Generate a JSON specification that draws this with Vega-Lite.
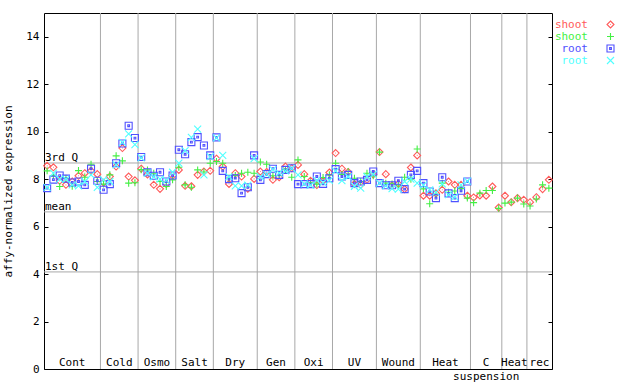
{
  "$schema": "https://vega.github.io/schema/vega-lite/v6.json",
  "width": 508,
  "height": 356,
  "autosize": {"type": "none"},
  "padding": {"left": 44, "top": 13, "right": 88, "bottom": 15},
  "background": "white",
  "config": {
    "view": {"stroke": "black", "strokeWidth": 1},
    "font": "DejaVu Sans Mono"
  },
  "datasets": {
    "groups": [
      {"name": "Cont", "a": 0, "b": 8},
      {"name": "Cold", "a": 9, "b": 14},
      {"name": "Osmo", "a": 15, "b": 20},
      {"name": "Salt", "a": 21, "b": 26},
      {"name": "Dry", "a": 27, "b": 33},
      {"name": "Gen", "a": 34, "b": 39},
      {"name": "Oxi", "a": 40, "b": 45},
      {"name": "UV", "a": 46, "b": 52},
      {"name": "Wound", "a": 53, "b": 59},
      {"name": "Heat", "a": 60, "b": 67},
      {"name": "C\nsuspension", "a": 68, "b": 72},
      {"name": "Heat", "a": 73, "b": 76},
      {"name": "rec", "a": 77, "b": 80}
    ],
    "refs": [
      {"name": "3rd Q", "v": 8.68},
      {"name": "mean", "v": 6.62},
      {"name": "1st Q", "v": 4.09}
    ],
    "pts": [
      {"i":0,"s":"shoot1","v":8.56},{"i":1,"s":"shoot1","v":8.5},{"i":2,"s":"shoot1","v":7.93},{"i":3,"s":"shoot1","v":7.76},{"i":4,"s":"shoot1","v":7.9},{"i":5,"s":"shoot1","v":8.14},{"i":6,"s":"shoot1","v":8.25},{"i":7,"s":"shoot1","v":8.35},{"i":8,"s":"shoot1","v":8.21},
      {"i":9,"s":"shoot1","v":7.85},{"i":10,"s":"shoot1","v":8.11},{"i":11,"s":"shoot1","v":8.53},{"i":12,"s":"shoot1","v":9.31},{"i":13,"s":"shoot1","v":8.11},{"i":14,"s":"shoot1","v":7.95},
      {"i":15,"s":"shoot1","v":8.44},{"i":16,"s":"shoot1","v":8.2},{"i":17,"s":"shoot1","v":7.76},{"i":18,"s":"shoot1","v":7.59},{"i":19,"s":"shoot1","v":7.8},{"i":20,"s":"shoot1","v":8.15},
      {"i":21,"s":"shoot1","v":8.39},{"i":22,"s":"shoot1","v":7.72},{"i":23,"s":"shoot1","v":7.7},{"i":24,"s":"shoot1","v":8.18},{"i":25,"s":"shoot1","v":8.32},{"i":26,"s":"shoot1","v":8.35},
      {"i":27,"s":"shoot1","v":8.86},{"i":28,"s":"shoot1","v":8.53},{"i":29,"s":"shoot1","v":7.8},{"i":30,"s":"shoot1","v":8.25},{"i":31,"s":"shoot1","v":8.11},{"i":32,"s":"shoot1","v":7.6},{"i":33,"s":"shoot1","v":8.01},
      {"i":34,"s":"shoot1","v":8.32},{"i":35,"s":"shoot1","v":8.3},{"i":36,"s":"shoot1","v":7.97},{"i":37,"s":"shoot1","v":8.08},{"i":38,"s":"shoot1","v":8.53},{"i":39,"s":"shoot1","v":8.46},
      {"i":40,"s":"shoot1","v":8.6},{"i":41,"s":"shoot1","v":8.21},{"i":42,"s":"shoot1","v":7.93},{"i":43,"s":"shoot1","v":7.75},{"i":44,"s":"shoot1","v":7.93},{"i":45,"s":"shoot1","v":8.28},
      {"i":46,"s":"shoot1","v":9.1},{"i":47,"s":"shoot1","v":8.44},{"i":48,"s":"shoot1","v":8.3},{"i":49,"s":"shoot1","v":7.8},{"i":50,"s":"shoot1","v":7.76},{"i":51,"s":"shoot1","v":7.97},{"i":52,"s":"shoot1","v":8.2},
      {"i":53,"s":"shoot1","v":9.14},{"i":54,"s":"shoot1","v":8.21},{"i":55,"s":"shoot1","v":7.74},{"i":56,"s":"shoot1","v":7.8},{"i":57,"s":"shoot1","v":7.58},{"i":58,"s":"shoot1","v":8.49},{"i":59,"s":"shoot1","v":9.0},
      {"i":60,"s":"shoot1","v":7.3},{"i":61,"s":"shoot1","v":7.3},{"i":62,"s":"shoot1","v":7.4},{"i":63,"s":"shoot1","v":7.55},{"i":64,"s":"shoot1","v":7.9},{"i":65,"s":"shoot1","v":7.76},{"i":66,"s":"shoot1","v":7.76},{"i":67,"s":"shoot1","v":7.3},
      {"i":68,"s":"shoot1","v":7.23},{"i":69,"s":"shoot1","v":7.31},{"i":70,"s":"shoot1","v":7.3},{"i":71,"s":"shoot1","v":7.69},{"i":72,"s":"shoot1","v":6.8},
      {"i":73,"s":"shoot1","v":7.3},{"i":74,"s":"shoot1","v":7.03},{"i":75,"s":"shoot1","v":7.2},{"i":76,"s":"shoot1","v":7.13},
      {"i":77,"s":"shoot1","v":7.03},{"i":78,"s":"shoot1","v":7.24},{"i":79,"s":"shoot1","v":7.58},{"i":80,"s":"shoot1","v":7.97},

      {"i":0,"s":"shoot2","v":8.35},{"i":1,"s":"shoot2","v":8.14},{"i":2,"s":"shoot2","v":7.69},{"i":3,"s":"shoot2","v":8.04},{"i":4,"s":"shoot2","v":7.7},{"i":5,"s":"shoot2","v":8.36},{"i":6,"s":"shoot2","v":8.08},{"i":7,"s":"shoot2","v":8.63},{"i":8,"s":"shoot2","v":7.9},
      {"i":9,"s":"shoot2","v":7.79},{"i":10,"s":"shoot2","v":8.18},{"i":11,"s":"shoot2","v":8.98},{"i":12,"s":"shoot2","v":8.77},{"i":13,"s":"shoot2","v":7.83},{"i":14,"s":"shoot2","v":7.85},
      {"i":15,"s":"shoot2","v":8.4},{"i":16,"s":"shoot2","v":8.39},{"i":17,"s":"shoot2","v":8.25},{"i":18,"s":"shoot2","v":7.9},{"i":19,"s":"shoot2","v":7.69},{"i":20,"s":"shoot2","v":7.97},
      {"i":21,"s":"shoot2","v":8.5},{"i":22,"s":"shoot2","v":7.76},{"i":23,"s":"shoot2","v":7.66},{"i":24,"s":"shoot2","v":8.39},{"i":25,"s":"shoot2","v":8.3},{"i":26,"s":"shoot2","v":8.67},
      {"i":27,"s":"shoot2","v":8.74},{"i":28,"s":"shoot2","v":8.67},{"i":29,"s":"shoot2","v":8.05},{"i":30,"s":"shoot2","v":8.15},{"i":31,"s":"shoot2","v":8.25},{"i":32,"s":"shoot2","v":8.29},{"i":33,"s":"shoot2","v":8.25},
      {"i":34,"s":"shoot2","v":8.72},{"i":35,"s":"shoot2","v":8.63},{"i":36,"s":"shoot2","v":8.14},{"i":37,"s":"shoot2","v":8.15},{"i":38,"s":"shoot2","v":8.4},{"i":39,"s":"shoot2","v":8.08},
      {"i":40,"s":"shoot2","v":8.81},{"i":41,"s":"shoot2","v":8.11},{"i":42,"s":"shoot2","v":7.85},{"i":43,"s":"shoot2","v":7.79},{"i":44,"s":"shoot2","v":8.07},{"i":45,"s":"shoot2","v":8.18},
      {"i":46,"s":"shoot2","v":8.67},{"i":47,"s":"shoot2","v":8.2},{"i":48,"s":"shoot2","v":8.32},{"i":49,"s":"shoot2","v":8.04},{"i":50,"s":"shoot2","v":7.9},{"i":51,"s":"shoot2","v":8.25},{"i":52,"s":"shoot2","v":8.14},
      {"i":53,"s":"shoot2","v":9.14},{"i":54,"s":"shoot2","v":7.83},{"i":55,"s":"shoot2","v":7.8},{"i":56,"s":"shoot2","v":7.75},{"i":57,"s":"shoot2","v":8.08},{"i":58,"s":"shoot2","v":8.0},{"i":59,"s":"shoot2","v":9.27},
      {"i":60,"s":"shoot2","v":7.59},{"i":61,"s":"shoot2","v":6.96},{"i":62,"s":"shoot2","v":7.35},{"i":63,"s":"shoot2","v":7.83},{"i":64,"s":"shoot2","v":7.45},{"i":65,"s":"shoot2","v":7.5},{"i":66,"s":"shoot2","v":7.6},{"i":67,"s":"shoot2","v":7.2},
      {"i":68,"s":"shoot2","v":7.01},{"i":69,"s":"shoot2","v":7.41},{"i":70,"s":"shoot2","v":7.52},{"i":71,"s":"shoot2","v":7.52},{"i":72,"s":"shoot2","v":6.77},
      {"i":73,"s":"shoot2","v":6.99},{"i":74,"s":"shoot2","v":7.03},{"i":75,"s":"shoot2","v":7.2},{"i":76,"s":"shoot2","v":6.95},
      {"i":77,"s":"shoot2","v":6.87},{"i":78,"s":"shoot2","v":7.16},{"i":79,"s":"shoot2","v":7.76},{"i":80,"s":"shoot2","v":7.62},

      {"i":0,"s":"root1","v":7.62},{"i":1,"s":"root1","v":7.98},{"i":2,"s":"root1","v":8.15},{"i":3,"s":"root1","v":8.02},{"i":4,"s":"root1","v":7.86},{"i":5,"s":"root1","v":7.9},{"i":6,"s":"root1","v":7.76},{"i":7,"s":"root1","v":8.44},{"i":8,"s":"root1","v":7.93},
      {"i":9,"s":"root1","v":7.55},{"i":10,"s":"root1","v":7.79},{"i":11,"s":"root1","v":8.67},{"i":12,"s":"root1","v":9.5},{"i":13,"s":"root1","v":10.25},{"i":14,"s":"root1","v":9.73},
      {"i":15,"s":"root1","v":8.93},{"i":16,"s":"root1","v":8.29},{"i":17,"s":"root1","v":8.14},{"i":18,"s":"root1","v":8.29},{"i":19,"s":"root1","v":7.9},{"i":20,"s":"root1","v":8.15},
      {"i":21,"s":"root1","v":9.24},{"i":22,"s":"root1","v":9.05},{"i":23,"s":"root1","v":9.56},{"i":24,"s":"root1","v":9.77},{"i":25,"s":"root1","v":9.42},{"i":26,"s":"root1","v":9.0},
      {"i":27,"s":"root1","v":9.76},{"i":28,"s":"root1","v":8.35},{"i":29,"s":"root1","v":8.0},{"i":30,"s":"root1","v":8.04},{"i":31,"s":"root1","v":7.41},{"i":32,"s":"root1","v":7.66},{"i":33,"s":"root1","v":9.0},
      {"i":34,"s":"root1","v":7.97},{"i":35,"s":"root1","v":8.21},{"i":36,"s":"root1","v":8.44},{"i":37,"s":"root1","v":8.18},{"i":38,"s":"root1","v":8.39},{"i":39,"s":"root1","v":8.46},
      {"i":40,"s":"root1","v":7.79},{"i":41,"s":"root1","v":7.79},{"i":42,"s":"root1","v":7.79},{"i":43,"s":"root1","v":8.11},{"i":44,"s":"root1","v":7.8},{"i":45,"s":"root1","v":8.04},
      {"i":46,"s":"root1","v":8.42},{"i":47,"s":"root1","v":8.11},{"i":48,"s":"root1","v":8.18},{"i":49,"s":"root1","v":7.83},{"i":50,"s":"root1","v":7.9},{"i":51,"s":"root1","v":7.97},{"i":52,"s":"root1","v":8.32},
      {"i":53,"s":"root1","v":7.83},{"i":54,"s":"root1","v":7.74},{"i":55,"s":"root1","v":7.74},{"i":56,"s":"root1","v":7.93},{"i":57,"s":"root1","v":7.58},{"i":58,"s":"root1","v":8.18},{"i":59,"s":"root1","v":8.35},
      {"i":60,"s":"root1","v":7.83},{"i":61,"s":"root1","v":7.48},{"i":62,"s":"root1","v":7.2},{"i":63,"s":"root1","v":8.08},{"i":64,"s":"root1","v":7.4},{"i":65,"s":"root1","v":7.2},{"i":66,"s":"root1","v":7.51},{"i":67,"s":"root1","v":7.9},

      {"i":0,"s":"root2","v":7.65},{"i":1,"s":"root2","v":8.25},{"i":2,"s":"root2","v":8.0},{"i":3,"s":"root2","v":8.0},{"i":4,"s":"root2","v":7.76},{"i":5,"s":"root2","v":7.72},{"i":6,"s":"root2","v":7.9},{"i":7,"s":"root2","v":8.18},{"i":8,"s":"root2","v":7.65},
      {"i":9,"s":"root2","v":7.97},{"i":10,"s":"root2","v":7.9},{"i":11,"s":"root2","v":8.6},{"i":12,"s":"root2","v":9.55},{"i":13,"s":"root2","v":9.91},{"i":14,"s":"root2","v":9.45},
      {"i":15,"s":"root2","v":8.9},{"i":16,"s":"root2","v":8.25},{"i":17,"s":"root2","v":8.1},{"i":18,"s":"root2","v":8.0},{"i":19,"s":"root2","v":7.95},{"i":20,"s":"root2","v":8.29},
      {"i":21,"s":"root2","v":8.67},{"i":22,"s":"root2","v":9.2},{"i":23,"s":"root2","v":9.76},{"i":24,"s":"root2","v":10.11},{"i":25,"s":"root2","v":8.18},{"i":26,"s":"root2","v":8.95},
      {"i":27,"s":"root2","v":9.74},{"i":28,"s":"root2","v":9.0},{"i":29,"s":"root2","v":8.11},{"i":30,"s":"root2","v":7.72},{"i":31,"s":"root2","v":7.72},{"i":32,"s":"root2","v":7.75},{"i":33,"s":"root2","v":8.86},
      {"i":34,"s":"root2","v":8.1},{"i":35,"s":"root2","v":8.2},{"i":36,"s":"root2","v":8.4},{"i":37,"s":"root2","v":8.25},{"i":38,"s":"root2","v":8.35},{"i":39,"s":"root2","v":8.45},
      {"i":40,"s":"root2","v":8.18},{"i":41,"s":"root2","v":7.8},{"i":42,"s":"root2","v":7.75},{"i":43,"s":"root2","v":7.95},{"i":44,"s":"root2","v":7.85},{"i":45,"s":"root2","v":7.95},
      {"i":46,"s":"root2","v":8.35},{"i":47,"s":"root2","v":7.94},{"i":48,"s":"root2","v":8.1},{"i":49,"s":"root2","v":7.7},{"i":50,"s":"root2","v":7.62},{"i":51,"s":"root2","v":8.1},{"i":52,"s":"root2","v":8.2},
      {"i":53,"s":"root2","v":7.83},{"i":54,"s":"root2","v":7.72},{"i":55,"s":"root2","v":7.6},{"i":56,"s":"root2","v":7.58},{"i":57,"s":"root2","v":7.9},{"i":58,"s":"root2","v":8.0},{"i":59,"s":"root2","v":7.83},
      {"i":60,"s":"root2","v":7.75},{"i":61,"s":"root2","v":7.55},{"i":62,"s":"root2","v":7.45},{"i":63,"s":"root2","v":7.8},{"i":64,"s":"root2","v":7.35},{"i":65,"s":"root2","v":7.25},{"i":66,"s":"root2","v":7.76},{"i":67,"s":"root2","v":7.92}
    ]
  },
  "resolve": {"axis": {"y": "independent"}},
  "layer": [
    {
      "data": {"name": "refs"},
      "mark": {"type": "rule", "color": "#a8a8a8", "strokeWidth": 1},
      "encoding": {
        "y": {"field": "v", "type": "quantitative", "scale": {"domain": [0, 15], "nice": false},
          "axis": {"orient": "right", "title": null, "labels": false, "values": [0, 2, 4, 6, 8, 10, 12, 14], "tickSize": -4, "tickColor": "black", "domain": false, "grid": false}}
      }
    },
    {
      "data": {"name": "refs"},
      "mark": {"type": "text", "align": "left", "baseline": "alphabetic", "dx": 1, "dy": -2, "font": "DejaVu Sans Mono", "fontSize": 11, "color": "black"},
      "encoding": {
        "x": {"datum": -0.5, "type": "quantitative", "scale": {"domain": [-0.5, 80.5], "nice": false, "zero": false}, "axis": null},
        "y": {"field": "v", "type": "quantitative", "axis": null},
        "text": {"field": "name"}
      }
    },
    {
      "data": {"name": "groups"},
      "transform": [{"filter": "datum.b < 80"}, {"calculate": "datum.b + 0.5", "as": "sep"}],
      "mark": {"type": "rule", "color": "#a8a8a8", "strokeWidth": 1},
      "encoding": {
        "x": {"field": "sep", "type": "quantitative", "axis": null}
      }
    },
    {
      "data": {"name": "groups"},
      "transform": [{"calculate": "(datum.a + datum.b) / 2", "as": "mid"}],
      "mark": {"type": "text", "align": "center", "baseline": "alphabetic", "dy": -3, "lineBreak": "\n", "lineHeight": 14, "font": "DejaVu Sans Mono", "fontSize": 11, "color": "black"},
      "encoding": {
        "x": {"field": "mid", "type": "quantitative", "axis": null},
        "y": {"datum": 0, "type": "quantitative", "axis": null},
        "text": {"field": "name"}
      }
    },
    {
      "data": {"name": "pts"},
      "mark": {"type": "point", "filled": false, "size": 49, "strokeWidth": 1.1, "opacity": 1},
      "encoding": {
        "x": {"field": "i", "type": "quantitative", "axis": null},
        "y": {"field": "v", "type": "quantitative",
          "axis": {"title": "affy-normalized expression", "values": [0, 2, 4, 6, 8, 10, 12, 14], "tickSize": -4, "labelPadding": 9, "tickColor": "black", "domain": false, "grid": false, "labelFont": "DejaVu Sans Mono", "labelFontSize": 11, "labelColor": "black", "titleFont": "DejaVu Sans Mono", "titleFontSize": 11, "titleFontWeight": "normal", "titleColor": "black", "titlePadding": 12}},
        "color": {"field": "s", "type": "nominal",
          "scale": {"domain": ["shoot1", "shoot2", "root1", "root2"], "range": ["#ff5a5a", "#44f044", "#5050ff", "#50ffff"]},
          "legend": {"title": null, "orient": "none", "legendX": 561, "legendY": 6, "padding": 0, "rowPadding": -2,
            "labelExpr": "substring(datum.label, 0, length(datum.label) - 1)",
            "labelAlign": "right", "labelOffset": -28, "labelFont": "DejaVu Sans Mono", "labelFontSize": 11,
            "labelColor": {"expr": "scale('color', datum.value)"}, "symbolSize": 49, "symbolStrokeWidth": 1.1}},
        "shape": {"field": "s", "type": "nominal",
          "scale": {"domain": ["shoot1", "shoot2", "root1", "root2"], "range": [
            "M0,-1L1,0L0,1L-1,0Z M-0.1,0L0.1,0",
            "M-1,0L1,0M0,-1L0,1",
            "M-1,-1L1,-1L1,1L-1,1Z M-0.25,-0.25L0.25,-0.25L0.25,0.25L-0.25,0.25Z",
            "M-1,-1L1,1M-1,1L1,-1"]},
          "legend": {"title": null, "orient": "none", "legendX": 561, "legendY": 6, "padding": 0, "rowPadding": -2,
            "labelExpr": "substring(datum.label, 0, length(datum.label) - 1)",
            "labelAlign": "right", "labelOffset": -28, "labelFont": "DejaVu Sans Mono", "labelFontSize": 11,
            "labelColor": {"expr": "scale('color', datum.value)"}, "symbolSize": 49, "symbolStrokeWidth": 1.1}}
      }
    }
  ]
}
